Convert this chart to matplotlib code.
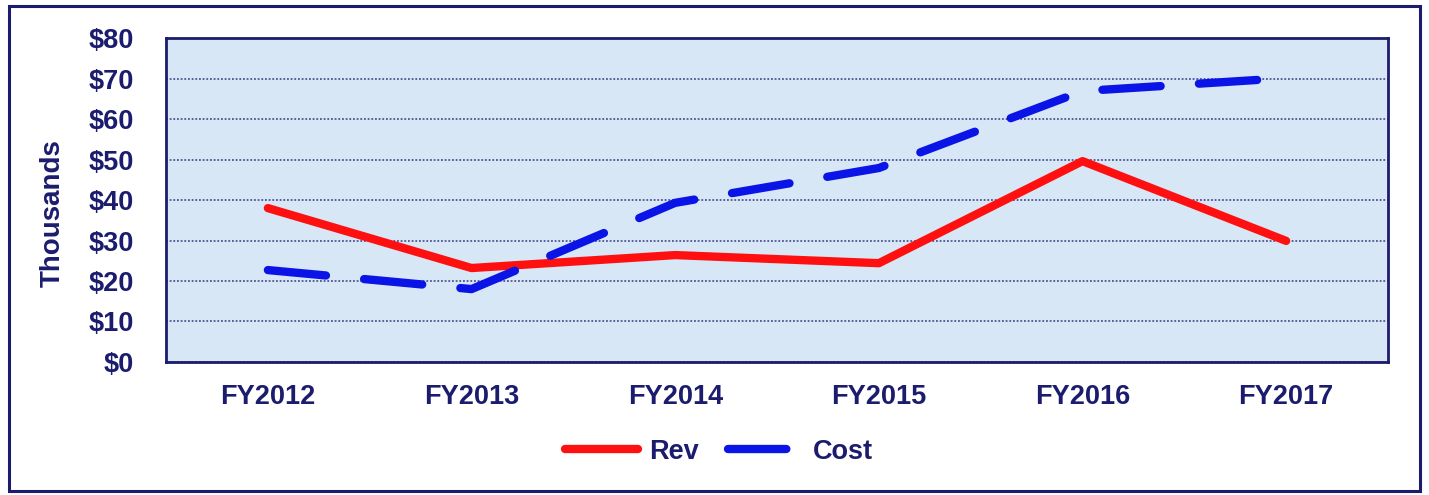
import matplotlib.pyplot as plt
from matplotlib.patches import Rectangle
from matplotlib.ticker import FuncFormatter

# data (thousands of $)
years = ['FY2012', 'FY2013', 'FY2014', 'FY2015', 'FY2016', 'FY2017']
rev = [38.0, 23.2, 26.4, 24.4, 49.6, 29.9]
cost = [22.7, 18.0, 39.3, 47.9, 66.9, 70.1]

navy = '#1c1c6e'
plt.rcParams['font.family'] = ['Liberation Sans', 'DejaVu Sans']
plt.rcParams['font.weight'] = 'bold'

fig = plt.figure(figsize=(14.29, 4.95), dpi=100)
ax = fig.add_axes([0.1162, 0.2687, 0.8551, 0.6545])
ax.set_facecolor('#d8e7f6')

x = range(len(years))
ax.plot(x, rev, color='#ff1010', lw=6, solid_capstyle='round', solid_joinstyle='round', label='Rev', zorder=3)
ax.plot(x, cost, color='#0a14e6', lw=6, dashes=(7, 4.6), dash_capstyle='round', label='Cost', zorder=3)

ax.set_xlim(-0.5, len(years) - 0.5)
ax.set_ylim(0, 80)
ax.set_yticks(range(0, 81, 10))
ax.yaxis.set_major_formatter(FuncFormatter(lambda v, p: '$%d' % v))
ax.set_xticks(list(x))
ax.set_xticklabels(years)
ax.tick_params(axis='both', length=0, labelsize=19.5, labelcolor=navy)
ax.tick_params(axis='x', pad=16)
ax.tick_params(axis='y', pad=23)
ax.grid(axis='y', color=navy, linestyle=(0, (1.2, 1.2)), lw=1.1, alpha=0.85)
for s in ax.spines.values():
    s.set_color(navy)
    s.set_linewidth(2)
ax.set_ylabel('Thousands', fontsize=20, color=navy, fontweight='bold')
ax.yaxis.set_label_coords(-0.082, 0.46)

fig.legend(loc='center', bbox_to_anchor=(0.503, 0.087), ncol=2, frameon=False,
           fontsize=19.5, labelcolor=navy, handlelength=2.7, columnspacing=1.1, handletextpad=0.4)

# outer border of the chart
fig.patches.append(Rectangle((0.006, 0.008), 0.988, 0.98, transform=fig.transFigure,
                             fill=False, edgecolor=navy, lw=2.2))

fig.savefig('out.png', dpi=100)
